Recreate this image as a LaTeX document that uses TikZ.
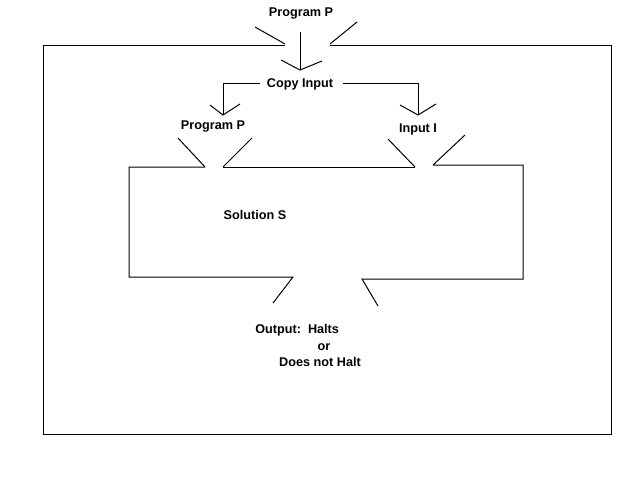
\documentclass[tikz,border=0pt]{standalone}
\usepackage{fontspec}
\setmainfont{Liberation Sans}
\begin{document}
\begin{tikzpicture}[x=0.75pt,y=-0.75pt,
  lbl/.style={font=\bfseries\fontsize{9.5}{10}\selectfont, inner sep=0pt},
  ln/.style={draw=black, line width=0.75pt}]
\useasboundingbox (0,0) rectangle (640,480);
% text nodes
\node[lbl] (progtop) at (301,13) {Program P};
\node[lbl] (copy) at (300,84) {Copy Input};
\node[lbl] (progP) at (213,126) {Program P};
\node[lbl] (inI) at (418,129) {Input I};
\node[lbl] (sol) at (255,215) {Solution S};
\node[lbl, anchor=west] (out) at (255,330) {Output:\ \ Halts};
\node[lbl] (or) at (324,347) {or};
\node[lbl] (dnh) at (320,362) {Does not Halt};
% coordinates
\coordinate (a1) at (300,32);
\coordinate (a2) at (300,70);
\coordinate (l1) at (260,83);
\coordinate (l2) at (223,83);
\coordinate (l3) at (223,115);
\coordinate (r1) at (343,83);
\coordinate (r2) at (418,83);
\coordinate (r3) at (418,115);
% outer box
\draw[ln] (285,45) -- (43,45) -- (43,434) -- (611,434) -- (611,45) -- (330,45);
\draw[ln] (255,27) -- (285,44);
\draw[ln] (357,22) -- (330,44);
% top arrow
\draw[ln] (a1) -- (a2);
\draw[ln] (281,60) -- (a2) -- (322,61);
% copy input arrows
\draw[ln] (l1) -- (l2) -- (l3);
\draw[ln] (210,105) -- (l3) -- (240,104);
\draw[ln] (r1) -- (r2) -- (r3);
\draw[ln] (400,105) -- (r3) -- (436,104);
% solution box
\draw[ln] (205,167) -- (129,167) -- (129,277) -- (293,277) -- (273,303);
\draw[ln] (223,167) -- (415,167);
\draw[ln] (433,165) -- (523,165) -- (523,279) -- (362,279) -- (378,306);
\draw[ln] (178,138) -- (205,167);
\draw[ln] (223,167) -- (252,138);
\draw[ln] (388,139) -- (415,167);
\draw[ln] (433,165) -- (465,135);
\end{tikzpicture}
\end{document}
